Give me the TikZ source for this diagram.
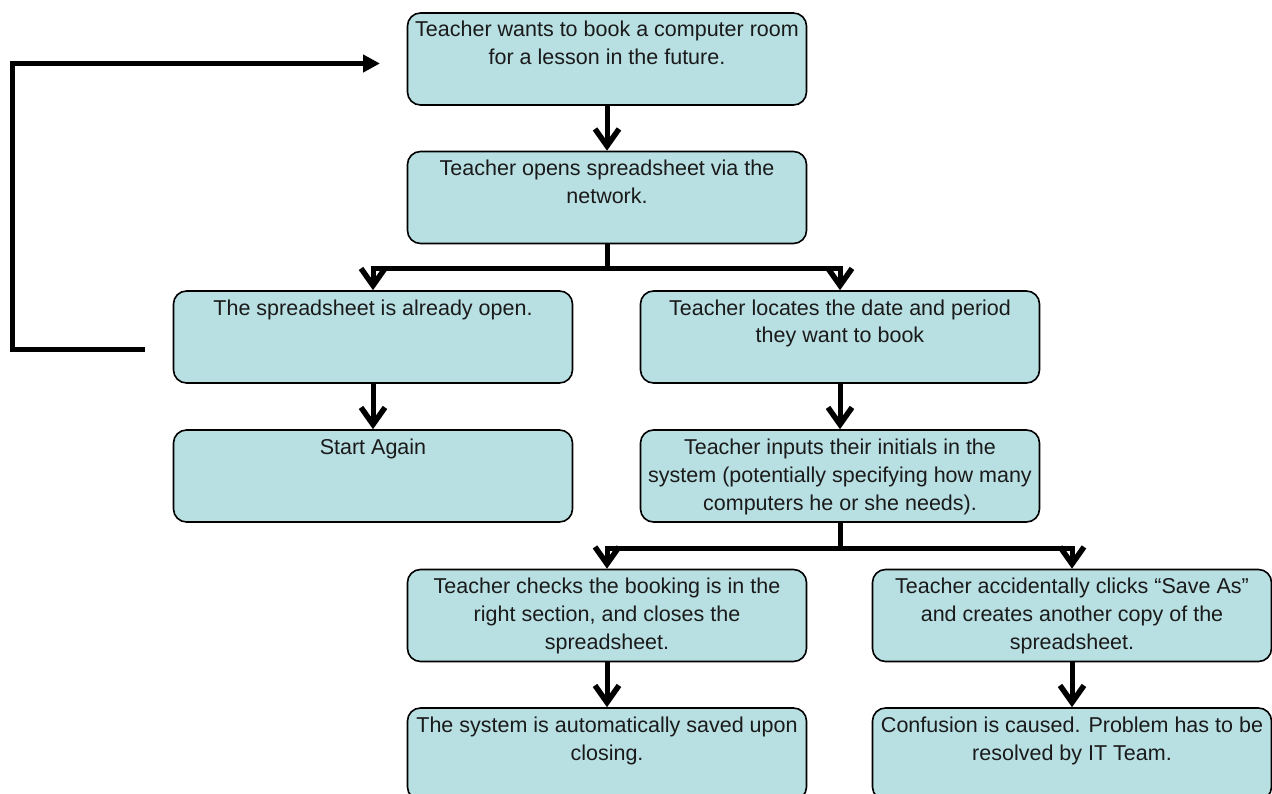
\documentclass[tikz,border=0pt]{standalone}
\usepackage{fontspec}
\setmainfont{Liberation Sans}
\usetikzlibrary{arrows.meta}
\definecolor{boxfill}{RGB}{184,223,226}
\definecolor{boxtext}{RGB}{26,26,26}
\tikzset {
    style box/.style={
        draw=black,
        line width=1.6pt,
        fill=boxfill,
        text=boxtext,
        rectangle, % Set the shape as a rectangle
        rounded corners=13pt,
        inner sep=0pt,
        minimum width=399pt,
        minimum height=92pt,
        font=\fontsize{21.5}{28}\selectfont,
        execute at begin node={\begin{minipage}[c][92pt][t]{399pt}\centering\rule{0pt}{24pt}},
        execute at end node={\end{minipage}},
    },
    style link/.style={
        draw=black,
        line width=5pt,
    },
    style arrow/.style={
        style link,
        -{Straight Barb[length=17pt,width=24pt,line width=5.5pt]},
    },
    style loop/.style={
        style link,
        -{Triangle[length=17pt,width=17pt]},
    },
}

\begin{document}
\begin{tikzpicture}[x=1pt, y=-1pt]
        \useasboundingbox (0,0) rectangle (1272,794);

        % boxes
        \node[style box] (wants)     at (607,59)    {Teacher wants to book a computer room\\for a lesson in the future.};
        \node[style box] (opens)     at (607,197.5) {Teacher opens spreadsheet via the\\network.};
        \node[style box] (already)   at (373,337)   {The spreadsheet is already open.};
        \node[style box] (locates)   at (840,337)   {Teacher locates the date and period\\they want to book};
        \node[style box] (again)     at (373,476)   {Start Again};
        \node[style box] (inputs)    at (840,476)   {Teacher inputs their initials in the\\system (potentially specifying how many\\computers he or she needs).};
        \node[style box] (checks)    at (607,615.5) {Teacher checks the booking is in the\\right section, and closes the\\spreadsheet.};
        \node[style box] (saveas)    at (1072,615.5) {Teacher accidentally clicks “Save As”\\and creates another copy of the\\spreadsheet.};
        \node[style box] (saved)     at (607,754)   {The system is automatically saved upon\\closing.};
        \node[style box] (confusion) at (1072,754)  {Confusion is caused. Problem has to be\\resolved by IT Team.};

        % connectors
        \draw[style arrow] (wants) -- (opens);
        \draw[style link] (opens.south) -- ++(0,24) coordinate (fork1);
        \draw[style arrow] (fork1) -| (already.north);
        \draw[style arrow] (fork1) -| (locates.north);
        \draw[style arrow] (already) -- (again);
        \draw[style arrow] (locates) -- (inputs);
        \draw[style link] (inputs.south) -- ++(0,26) coordinate (fork2);
        \draw[style arrow] (fork2) -| (checks.north);
        \draw[style arrow] (fork2) -| (saveas.north);
        \draw[style arrow] (checks) -- (saved);
        \draw[style arrow] (saveas) -- (confusion);

        % back to the start
        \coordinate (loopstart) at (145,350);
        \coordinate (loopturn)  at (12.5,350);
        \coordinate (loopend)   at (380,63.5);
        \draw[style loop] (loopstart) -- (loopturn) |- (loopend);
\end{tikzpicture}
\end{document}
